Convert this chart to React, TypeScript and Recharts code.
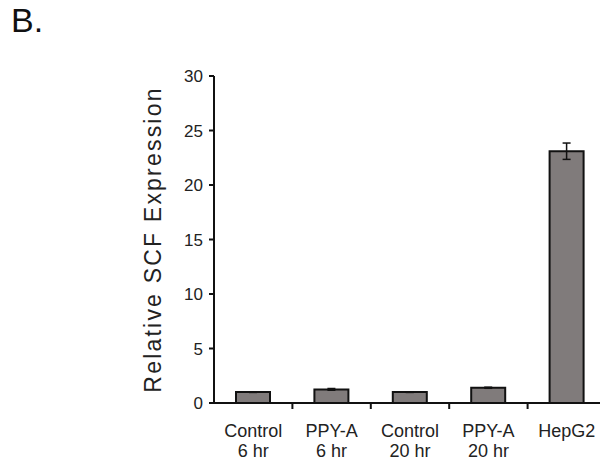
import React from 'react';
import { BarChart, Bar, XAxis, YAxis, ErrorBar, Label } from 'recharts';

const categories = ['Control\n6 hr', 'PPY-A\n6 hr', 'Control\n20 hr', 'PPY-A\n20 hr', 'HepG2'];
const expression = [1.0, 1.25, 1.0, 1.4, 23.1];
const errors = [0.03, 0.08, 0.03, 0.05, 0.75];
const yTicks = [0, 5, 10, 15, 20, 25, 30];

const data = categories.map((name, i) => ({ name, value: expression[i], err: errors[i] }));

const W = 600;
const H = 456;
const LEFT = 206;
const RIGHT = 2;
const TOP = 68;
const XAXIS_H = 55;
const BOTTOM = 6;
const PLOT_BOTTOM = H - BOTTOM - XAXIS_H;
const BAND = (W - LEFT - RIGHT) / categories.length;
const FONT = 'Liberation Sans, Arial, sans-serif';

const XTick = (props: any) => {
  const { x, payload, index } = props;
  const lines = String(payload.value).split('\n');
  return (
    <g>
      {index < categories.length - 1 && (
        <line x1={x + BAND / 2} x2={x + BAND / 2} y1={PLOT_BOTTOM} y2={PLOT_BOTTOM + 6} stroke="#111" strokeWidth={2} />
      )}
      {lines.map((l, i) => (
        <text key={i} x={x} y={PLOT_BOTTOM + 34 + i * 20} textAnchor="middle" fontSize={18} fill="#222" fontFamily={FONT}>
          {l}
        </text>
      ))}
    </g>
  );
};

const App: React.FC = () => {
  return (
    <div style={{ position: 'relative', width: W, height: H, background: '#fff' }}>
      <div style={{ position: 'absolute', left: 3, top: -7, fontSize: 34, fontFamily: FONT, color: '#111' }}>
        B.
      </div>
      <BarChart width={W} height={H} data={data} margin={{ top: TOP, right: RIGHT, left: 0, bottom: BOTTOM }} barCategoryGap={0}>
        <XAxis dataKey="name" height={XAXIS_H} interval={0} tickLine={false}
          axisLine={{ stroke: '#111', strokeWidth: 2 }} tick={<XTick />} />
        <YAxis width={LEFT} domain={[0, 30]} ticks={yTicks} tickSize={5} tickMargin={6}
          axisLine={{ stroke: '#111', strokeWidth: 2 }} tickLine={{ stroke: '#111', strokeWidth: 2 }}
          tick={{ fontSize: 17, fill: '#222', fontFamily: FONT }}>
          <Label value="Relative SCF Expression" angle={-90} position="insideLeft" offset={148} dx={-3}
            style={{ fontSize: 23, letterSpacing: 2.2, fill: '#222', fontFamily: FONT, textAnchor: 'middle' }} />
        </YAxis>
        <Bar dataKey="value" fill="#807b7b" stroke="#111" strokeWidth={2} barSize={34} isAnimationActive={false}>
          <ErrorBar dataKey="err" width={4} stroke="#111" strokeWidth={1.5} direction="y" />
        </Bar>
      </BarChart>
    </div>
  );
};

export default App;
